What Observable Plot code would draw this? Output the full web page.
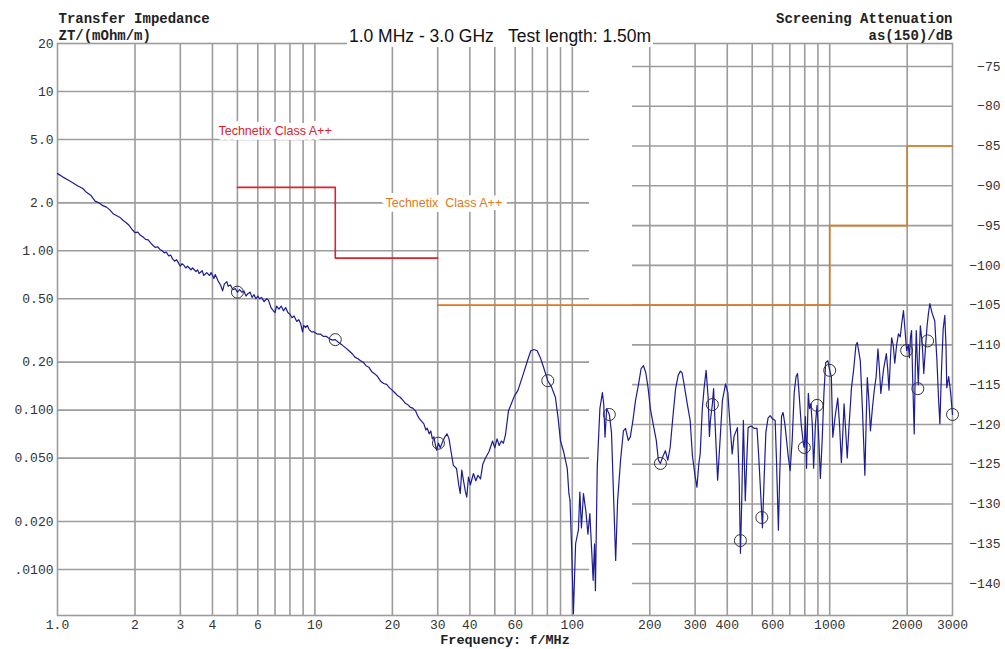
<!DOCTYPE html>
<html><head><meta charset="utf-8">
<script src="https://cdn.jsdelivr.net/npm/d3@7"></script>
<script src="https://cdn.jsdelivr.net/npm/@observablehq/plot@0.6"></script>
<style>
body{margin:0;background:#fff;}
#wrap{position:relative;width:1005px;height:649px;overflow:hidden;background:#fff;}
#wrap svg{position:absolute;left:0;top:0;}
#title{position:absolute;z-index:5;left:347px;top:25px;width:306px;height:22px;line-height:22px;background:#fff;text-align:center;font-family:"Liberation Sans",Arial,sans-serif;font-size:17.5px;color:#111;white-space:pre;}
</style></head><body>
<div id="wrap"><div id="title"></div></div>
<script>
// ---- data ----
const titleText = "1.0 MHz - 3.0 GHz   Test length: 1.50m";
const leftTitle = ["Transfer Impedance", "ZT/(mOhm/m)"];
const rightTitle = ["Screening Attenuation", "as(150)/dB"];
const xTitle = "Frequency: f/MHz";
const redLabel = "Technetix Class A++";
const orangeLabel = "Technetix  Class A++";

const xTicks = [1,2,3,4,6,10,20,30,40,60,100,200,300,400,600,1000,2000,3000];
const xTickLabels = ["1.0","2","3","4","6","10","20","30","40","60","100","200","300","400","600","1000","2000","3000"];
const leftTicks = [20,10,5,2,1,0.5,0.2,0.1,0.05,0.02,0.01];
const leftTickLabels = ["20","10","5.0","2.0","1.00","0.50","0.20","0.100","0.050","0.020",".0100"];
const rightTicks = [-75,-80,-85,-90,-95,-100,-105,-110,-115,-120,-125,-130,-135,-140];
const rightTickLabels = ["−75","−80","−85","−90","−95","−100","−105","−110","−115","−120","−125","−130","−135","−140"];
const leftGridX = [2,3,4,5,6,7,8,9,10,20,30,40,50,60,70,80,90,100];
const leftGridY = [10,5,2,1,0.5,0.2,0.1,0.05,0.02,0.01];
const rightGridX = [200,300,400,500,600,700,800,900,1000,2000];

const limitRedFreq = [5,12,12,30];
const limitRedZt = [2.5,2.5,0.9,0.9];
const limitOrangeFreq = [30,1000,1000,2000,2000,3000];
const limitOrangeDb = [-105,-105,-95,-95,-85,-85];

// transfer impedance (mOhm/m), 1 - 98 MHz
const lowFreq = [1.0,1.05,1.1,1.15,1.2,1.25,1.3,1.35,1.4,1.45,1.5,1.55,1.6,1.65,1.7,1.75,1.8,1.85,1.9,1.95,2.0,2.05,2.1,2.15,2.2,2.25,2.3,2.35,2.4,2.45,2.5,2.55,2.6,2.65,2.7,2.75,2.8,2.85,2.9,2.95,3.0,3.05,3.1,3.15,3.2,3.3,3.35,3.45,3.5,3.55,3.65,3.7,3.8,3.9,3.95,4.05,4.1,4.2,4.3,4.38,4.45,4.55,4.6,4.7,4.8,4.9,5.0,5.1,5.2,5.3,5.4,5.5,5.6,5.7,5.8,5.9,6.0,6.1,6.2,6.35,6.5,6.6,6.75,6.9,7.0,7.1,7.25,7.4,7.55,7.7,7.85,8.0,8.15,8.3,8.5,8.65,8.8,8.95,9.05,9.2,9.35,9.5,9.7,9.9,10.2,10.5,10.8,11.1,11.4,11.7,12,12.4,12.8,13.2,13.6,14,14.3,14.7,15,15.4,15.8,16.2,16.6,17,17.5,18,18.5,19,19.5,20,20.5,21,21.5,22,22.5,23,23.5,24,24.6,25,25.5,26,26.5,27,27.3,27.8,28.2,28.6,29,29.4,29.7,30.2,30.7,31.3,32,32.6,33.2,33.8,34.5,35.5,36.2,36.7,37.2,37.8,38.4,38.9,39.5,40.2,41.3,42.2,43,44,44.9,46,47.5,49,50,51,52,53,54,55,56.5,58,59.5,61.5,63,65,67,69,71,73,75,77,80.3,83,86,88,90,92.5,95.6,97,98];
const lowZt = [3.05,2.9,2.78,2.66,2.55,2.47,2.32,2.22,2.05,2.0,1.92,1.88,1.8,1.7,1.66,1.62,1.55,1.5,1.44,1.36,1.3,1.31,1.25,1.22,1.18,1.17,1.12,1.08,1.05,1.06,1.02,1.0,0.97,0.98,0.93,0.94,0.89,0.86,0.88,0.84,0.8,0.83,0.81,0.78,0.8,0.76,0.78,0.74,0.76,0.72,0.75,0.7,0.73,0.7,0.73,0.67,0.71,0.65,0.61,0.56,0.62,0.64,0.6,0.61,0.57,0.58,0.55,0.57,0.55,0.56,0.52,0.54,0.55,0.51,0.53,0.5,0.52,0.5,0.51,0.48,0.5,0.49,0.44,0.42,0.41,0.45,0.43,0.45,0.42,0.44,0.41,0.4,0.38,0.39,0.36,0.37,0.35,0.31,0.34,0.33,0.34,0.32,0.31,0.31,0.3,0.3,0.29,0.29,0.28,0.275,0.277,0.265,0.255,0.245,0.235,0.225,0.215,0.21,0.205,0.2,0.19,0.186,0.175,0.17,0.163,0.152,0.147,0.145,0.138,0.133,0.128,0.123,0.12,0.115,0.11,0.108,0.104,0.103,0.099,0.093,0.088,0.085,0.082,0.075,0.077,0.071,0.074,0.066,0.068,0.06,0.056,0.062,0.058,0.063,0.068,0.071,0.066,0.055,0.045,0.043,0.034,0.03,0.042,0.036,0.031,0.0284,0.038,0.034,0.04,0.036,0.039,0.037,0.0457,0.05,0.055,0.064,0.058,0.066,0.06,0.064,0.062,0.07,0.099,0.11,0.122,0.133,0.15,0.175,0.205,0.236,0.24,0.236,0.215,0.19,0.153,0.14,0.12,0.09,0.064,0.055,0.043,0.03,0.027];

// screening attenuation (dB), 98 - 3000 MHz
const highFreq = [98,99.5,101,103,105.6,107,108.5,110.5,113,115,117,119,120.5,122,123,125,128,130.9,132.5,134,136,139.3,142,145,147.4,150,154,158,161,165,168,172,176,181,185,189,193,197,201,206,212,216,220,225,230,235,240,246,252,258,263,267,272,280,287,293,300,305,310,314,320,325,331,337,341,344,350,354,360,367,375,383,394,402,410,418,425,438,445,450,455,462,470,477,482,495,510,522,530,540,548,556,565,576,587,600,614,622,632,640,650,659,670,680,690,702,715,728,740,750,760,775,790,797,805,813,820,826,835,845,856,866,880,893,905,920,935,950,965,984,1000,1015,1028,1050,1075,1092,1110,1125,1137,1150,1170,1190,1215,1240,1265,1280,1300,1315,1340,1370,1385,1400,1420,1440,1465,1490,1515,1540,1560,1580,1620,1660,1680,1700,1720,1740,1765,1790,1820,1850,1880,1910,1935,1960,1990,2020,2040,2060,2080,2100,2130,2150,2170,2190,2210,2250,2290,2320,2360,2390,2420,2450,2500,2560,2610,2650,2680,2720,2760,2800,2830,2850,2900,2950,3000];
const highDb = [-129.6,-136,-143.8,-135,-133.3,-128.5,-133,-128.7,-131,-133.8,-131.2,-136,-139.6,-135,-140.9,-125.4,-118,-116,-117.5,-121.6,-118,-118.75,-121,-130,-137.1,-129.6,-124.5,-120.8,-120.5,-122,-121.6,-119.5,-117,-114.9,-113,-112.6,-113.5,-115.4,-118,-119.9,-122,-124.5,-124.9,-124,-123.3,-124.5,-122.9,-119,-115.5,-113.8,-113.3,-113.5,-115,-117.5,-119.5,-124,-126.5,-127.9,-125,-123.7,-118,-115.5,-113.2,-116.5,-121.5,-119.5,-117.5,-115.5,-121,-127,-122,-117,-114.9,-116,-120,-123.7,-121.5,-120.4,-127,-136.2,-130,-119.5,-129.6,-124,-120.4,-120.2,-120.5,-120.5,-124,-129,-133,-127,-121,-119.2,-118.9,-119.3,-119.5,-125,-133.3,-126,-119,-118.5,-120,-122,-124,-125.8,-122,-116,-114,-113.6,-116,-120,-122.4,-122.9,-119,-125.5,-120,-116.1,-118,-117.4,-120,-125.5,-120,-117.6,-121,-126.8,-122,-116,-112.2,-112,-113.2,-114,-121.6,-119,-116.7,-120,-124.8,-121,-117.4,-120,-124.2,-120,-115.4,-113,-110,-109.7,-111,-112,-118,-126.4,-120,-114.1,-117,-120.8,-118,-115.7,-114,-110.5,-113,-116.1,-113,-111.1,-113,-115.7,-112,-109.1,-110,-112.3,-110,-108.6,-109,-107,-105.7,-108,-110.7,-110,-111.6,-109,-108.2,-114,-121.2,-113,-108.2,-112,-115,-107.6,-110,-113.6,-110,-107.6,-106,-104.8,-106,-107,-112,-117,-119.9,-113,-108,-106.3,-110,-115.4,-114,-116,-118.75];

const markLowFreq = [5,12,30.2,80.3];
const markLowZt = [0.55,0.277,0.062,0.153];
const markHighFreq = [139.3,220,350,450,545,797,893,1000,1990,2200,2400,3000];
const markHighDb = [-118.75,-124.9,-117.5,-134.6,-131.7,-122.9,-117.6,-113.2,-110.7,-115.5,-109.5,-118.75];

// ---- drawing ----
const W = 1005, H = 649;
const margins = {marginTop: 43, marginBottom: 34, marginLeft: 57, marginRight: 53};
const gridColor = "#9c9c9c";
const curveColor = "#1c1c94";
const redColor = "#e0202a";
const orangeColor = "#e07a18";
const labelColor = "#333";
const xScale = {type: "log", domain: [1, 3000]};
const titleFont = {fontFamily: "Liberation Mono", fontWeight: "bold", fontSize: 14, fill: "#222", lineAnchor: "middle"};
const tickFont = {fontFamily: "Liberation Mono", fontSize: 13, fill: labelColor};

const plotA = Plot.plot({
  width: W, height: H, ...margins,
  style: {background: "white", fontFamily: "Liberation Mono", fontSize: "13px", color: "#333"},
  x: {...xScale, axis: null},
  y: {type: "log", domain: [0.00514, 20], axis: null},
  marks: [
    Plot.ruleX(leftGridX, {stroke: gridColor, strokeWidth: 1.6}),
    Plot.ruleY(leftGridY, {x1: 1, x2: 116.7, stroke: gridColor, strokeWidth: 1.6}),
    Plot.ruleX(rightGridX, {stroke: gridColor, strokeWidth: 1.6}),
    Plot.frame({stroke: gridColor, strokeWidth: 1.6}),
    Plot.text(xTicks, {x: d => d, text: (d, i) => xTickLabels[i], frameAnchor: "bottom", lineAnchor: "top", dy: 4, ...tickFont}),
    Plot.text(leftTicks, {y: d => d, text: (d, i) => leftTickLabels[i], frameAnchor: "left", textAnchor: "end", lineAnchor: "middle", dx: -4, ...tickFont}),
    Plot.text([redLabel], {x: 4.22, y: 5.67, textAnchor: "start", fill: redColor, stroke: "white", strokeWidth: 10, fontFamily: "Liberation Sans", fontSize: 12.5}),
    Plot.text([orangeLabel], {x: 18.8, y: 2.0, textAnchor: "start", fill: orangeColor, stroke: "white", strokeWidth: 10, fontFamily: "Liberation Sans", fontSize: 12.5}),
    Plot.line(limitRedZt, {x: limitRedFreq, y: limitRedZt, stroke: redColor, strokeWidth: 1.6}),
    Plot.line(lowZt, {x: lowFreq, y: lowZt, stroke: curveColor, strokeWidth: 1.2}),
    Plot.dot(markLowZt, {x: markLowFreq, y: markLowZt, r: 6, stroke: "#333", strokeWidth: 1}),
    Plot.text([leftTitle[0]], {frameAnchor: "top-left", dx: 1, dy: -25, textAnchor: "start", ...titleFont}),
    Plot.text([leftTitle[1]], {frameAnchor: "top-left", dx: 1, dy: -8, textAnchor: "start", ...titleFont}),
    Plot.text([rightTitle[0]], {frameAnchor: "top-right", dy: -25, textAnchor: "end", ...titleFont}),
    Plot.text([rightTitle[1]], {frameAnchor: "top-right", dy: -8, textAnchor: "end", ...titleFont}),
    Plot.text([xTitle], {frameAnchor: "bottom", dy: 24, ...titleFont, fontSize: 13.5})
  ]
});

const plotB = Plot.plot({
  width: W, height: H, ...margins,
  style: {background: "transparent", fontFamily: "Liberation Mono", fontSize: "13px", color: "#333"},
  x: {...xScale, axis: null},
  y: {type: "linear", domain: [-144.02, -72.11], axis: null},
  marks: [
    Plot.ruleY(rightTicks, {x1: 171.4, x2: 3000, stroke: gridColor, strokeWidth: 1.6}),
    Plot.text(rightTicks, {y: d => d, text: (d, i) => rightTickLabels[i], frameAnchor: "right", textAnchor: "end", lineAnchor: "middle", dx: 48, ...tickFont}),
    Plot.line(limitOrangeDb, {x: limitOrangeFreq, y: limitOrangeDb, stroke: orangeColor, strokeWidth: 1.6}),
    Plot.line(highDb, {x: highFreq, y: highDb, stroke: curveColor, strokeWidth: 1.2}),
    Plot.dot(markHighDb, {x: markHighFreq, y: markHighDb, r: 6, stroke: "#333", strokeWidth: 1})
  ]
});

const wrap = document.getElementById("wrap");
wrap.insertBefore(plotA, wrap.firstChild);
wrap.insertBefore(plotB, document.getElementById("title"));
document.getElementById("title").textContent = titleText;
</script></body></html>
